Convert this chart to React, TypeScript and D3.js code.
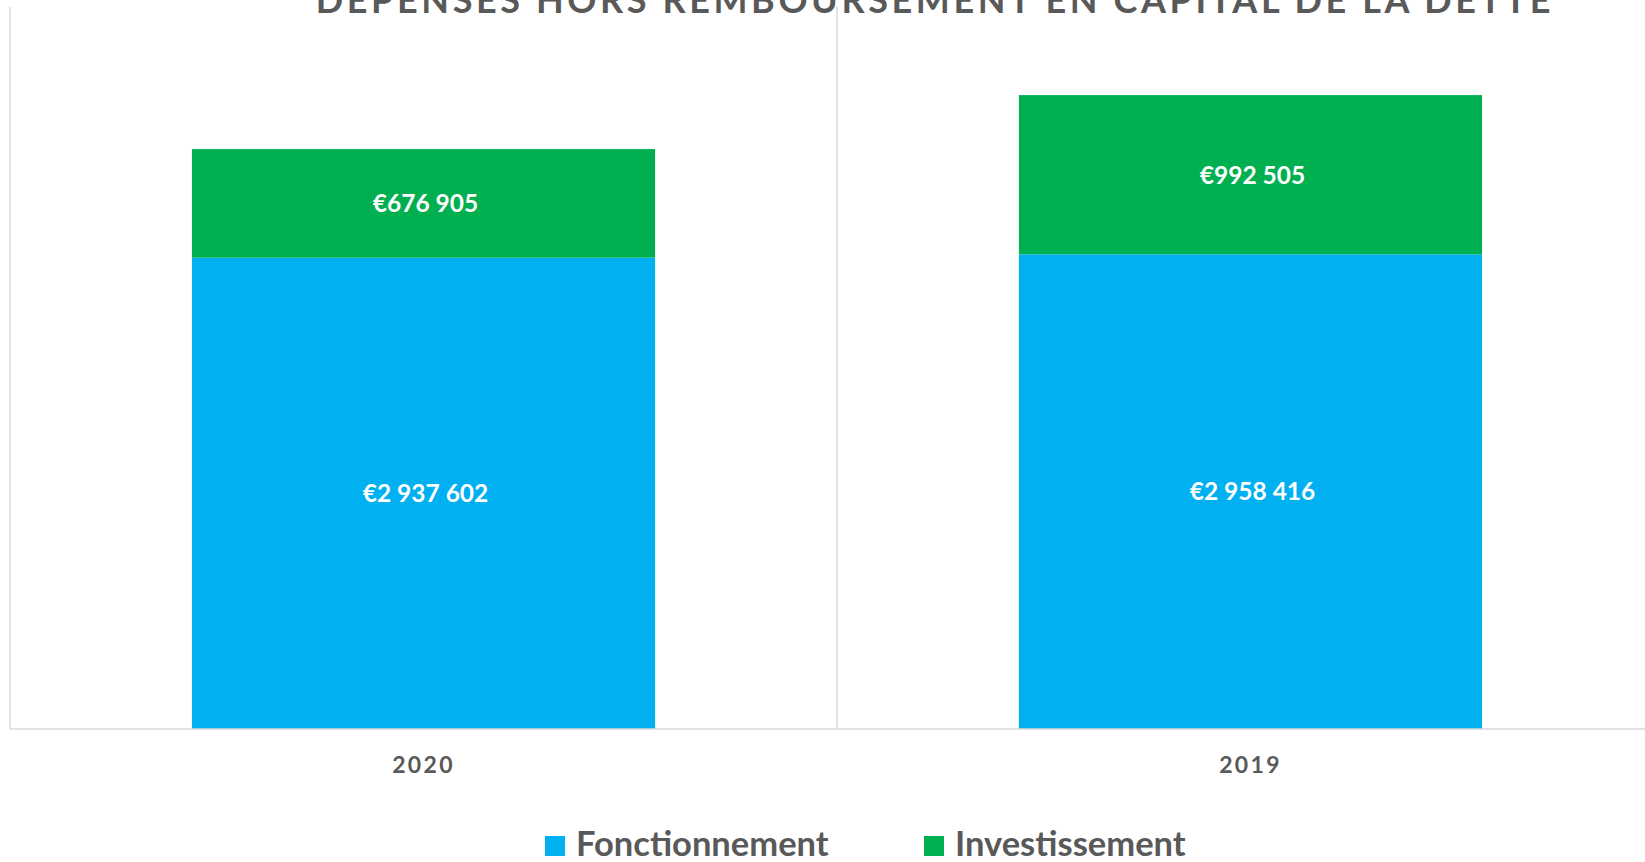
import React from "react";
import * as d3 from "d3";

const categories = ["2020", "2019"];
const fonctionnement = [2937602, 2958416];
const investissement = [676905, 992505];
const seriesNames = ["Fonctionnement", "Investissement"];
const seriesColors = ["#00B0F0", "#00B050"];
const yMax = 4500000;
const title = "DÉPENSES HORS REMBOURSEMENT EN CAPITAL DE LA DETTE";

const W = 1645;
const H = 862;
const FONT = "Lato, 'Open Sans', sans-serif";

const fmt = (v: number) => "€" + d3.format(",")(v).replace(/,/g, " ");

export default function App() {
  const x = d3.scaleBand<string>().domain(categories).range([10, 10 + 2 * 827]).padding(0);
  const y = d3.scaleLinear().domain([0, yMax]).range([729, 7]);
  const barW = x.bandwidth() * 0.56;

  const rows = categories.map((c, i) => ({ cat: c, Fonctionnement: fonctionnement[i], Investissement: investissement[i] }));
  const stack = d3.stack<any>().keys(seriesNames)(rows);

  return (
    <div style={{ position: "absolute", left: 0, top: 0, width: W, height: H, overflow: "hidden", background: "#fff" }}>
      <svg width={W} height={H} style={{ display: "block" }}>
        <rect x={0} y={0} width={W} height={H} fill="#fff" />
        {[0, 1, 2].map((i) => {
          const xx = 10 + i * x.step();
          return <line key={i} x1={xx} x2={xx} y1={y(yMax)} y2={y(0)} stroke="#D9D9D9" strokeWidth={1.5} />;
        })}
        {stack.map((s, si) => (
          <g key={s.key}>
            {s.map((d: any, i: number) => {
              const cx = (x(categories[i]) as number) + x.bandwidth() / 2;
              const y0 = y(d[0]);
              const y1 = y(d[1]);
              return (
                <g key={i}>
                  <rect x={cx - barW / 2} y={y1} width={barW} height={y0 - y1} fill={seriesColors[si]} />
                  <text
                    x={cx + 2}
                    y={(y0 + y1) / 2}
                    dy="0.36em"
                    textAnchor="middle"
                    fill="#fff"
                    fontFamily={FONT}
                    fontWeight={700}
                    fontSize={24.5}
                  >
                    {fmt(d[1] - d[0])}
                  </text>
                </g>
              );
            })}
          </g>
        ))}
        <line x1={10} x2={W} y1={y(0)} y2={y(0)} stroke="#D9D9D9" strokeWidth={1.5} />
        {categories.map((c) => (
          <text
            key={c}
            x={(x(c) as number) + x.bandwidth() / 2}
            y={773}
            textAnchor="middle"
            fill="#595959"
            fontFamily={FONT}
            fontWeight={700}
            fontSize={23}
            letterSpacing={2.3}
          >
            {c}
          </text>
        ))}
        <text x={935} y={13} textAnchor="middle" fill="#595959" fontFamily={FONT} fontWeight={700} fontSize={36} letterSpacing={3.6}>
          {title}
        </text>
        {seriesNames.map((n, i) => {
          const lx = [545, 924][i];
          return (
            <g key={n}>
              <rect x={lx} y={836} width={20} height={20} fill={seriesColors[i]} />
              <text x={lx + 31} y={856} fill="#595959" fontFamily={FONT} fontWeight={700} fontSize={34.5}>
                {n}
              </text>
            </g>
          );
        })}
      </svg>
    </div>
  );
}
